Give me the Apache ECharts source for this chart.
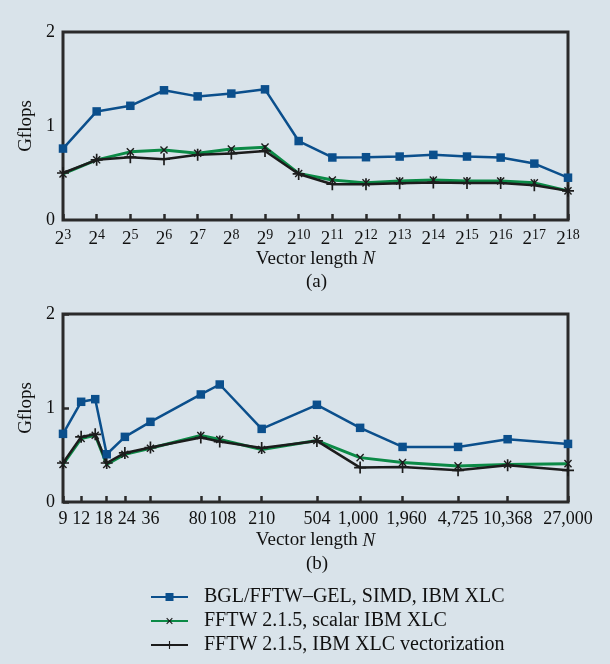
<!DOCTYPE html>
<html><head><meta charset="utf-8">
<script src="https://cdn.jsdelivr.net/npm/echarts@6/dist/echarts.min.js"></script>
<style>html,body{margin:0;padding:0;background:#d9e3ea}#c{width:610px;height:664px}</style>
</head><body><div id="c"></div>
<script>
// ---- data ----
var topExp = [3,4,5,6,7,8,9,10,11,12,13,14,15,16,17,18];
var blueA  = [0.76,1.155,1.215,1.38,1.315,1.345,1.39,0.84,0.665,0.668,0.675,0.693,0.675,0.664,0.60,0.45];
var greenA = [0.49,0.64,0.725,0.745,0.71,0.755,0.775,0.495,0.425,0.395,0.415,0.425,0.415,0.415,0.395,0.31];
var blackA = [0.50,0.64,0.668,0.647,0.693,0.707,0.735,0.49,0.38,0.38,0.39,0.40,0.394,0.394,0.37,0.31];

var bottomN = [9,12,15,18,24,36,80,108,210,504,1000,1960,4725,10368,27000];
var blueB  = [0.725,1.066,1.094,0.508,0.693,0.853,1.144,1.25,0.778,1.034,0.789,0.586,0.586,0.668,0.618];
var greenB = [0.40,0.675,0.71,0.40,0.508,0.572,0.707,0.664,0.558,0.654,0.472,0.42,0.384,0.40,0.408];
var blackB = [0.415,0.693,0.72,0.415,0.522,0.579,0.686,0.643,0.575,0.65,0.366,0.373,0.337,0.39,0.337];
var bottomTicks = [9,12,18,24,36,80,108,210,504,1000,1960,4725,10368,27000];

var names = ['BGL/FFTW\u2013GEL, SIMD, IBM XLC','FFTW 2.1.5, scalar IBM XLC','FFTW 2.1.5, IBM XLC vectorization'];
// ---- style ----
var FONT = 'Liberation Serif';
var BLUE = '#0b4f8c', GREEN = '#0b8a46', BLACK = '#1c1c1c', FRAME = '#2a2a2a';
var PLUS = 'path://M4.3,0H5.7V4.3H10V5.7H5.7V10H4.3V5.7H0V4.3H4.3Z';
// label nudges (px, + = right) to keep crowded tick labels apart, as in the original
var labelShift = {18:-3, 24:2, 80:-3, 108:3, 1000:-2, 1960:4};

var chart = echarts.init(document.getElementById('c'), null, {renderer:'canvas'});

function yAxis(idx){
  return {gridIndex: idx, type:'value', min:0, max:2, interval:1,
    axisLine:{show:false}, splitLine:{show:false},
    axisTick:{inside:true, length:6, lineStyle:{color:FRAME, width:2.5}},
    axisLabel:{fontFamily:FONT, fontSize:18, color:'#111', margin:8},
    name:'Gflops', nameLocation:'middle', nameRotate:90, nameGap:22,
    nameTextStyle:{fontFamily:FONT, fontSize:19, color:'#111'}};
}
function xName(){
  return {name:'{a|Vector length }{i|N}', nameLocation:'middle', nameGap:28,
    nameTextStyle:{fontFamily:FONT, fontSize:19, color:'#111',
      rich:{a:{fontFamily:FONT, fontSize:19, color:'#111'}, i:{fontFamily:FONT, fontSize:19, fontStyle:'italic', color:'#111'}}}};
}
function series(name, xi, data, kind){
  var s = {name:name, type:'line', xAxisIndex:xi, yAxisIndex:xi, data:data, animation:false,
    lineStyle:{width:2.5}, z: 2};
  if (kind===0){ s.symbol='rect'; s.symbolSize=8.5; s.itemStyle={color:BLUE}; s.lineStyle.color=BLUE; s.z=4; }
  else if (kind===1){ s.symbol=PLUS; s.symbolRotate=45; s.symbolSize=10; s.itemStyle={color:BLACK}; s.lineStyle.color=GREEN; s.lineStyle.width=3; s.z=2; }
  else { s.symbol=PLUS; s.symbolSize=12; s.itemStyle={color:BLACK}; s.lineStyle.color=BLACK; s.z=3; }
  return s;
}

var xa0 = Object.assign({gridIndex:0, type:'category', boundaryGap:false,
  data: topExp.map(function(e){return String(e);}),
  axisLine:{show:false}, splitLine:{show:false},
  axisTick:{inside:true, length:6, interval:0, lineStyle:{color:FRAME, width:2.5}},
  axisLabel:{interval:0, margin:8, formatter:function(v){return '{b|2}{s|'+v+'}';},
    rich:{b:{fontFamily:FONT, fontSize:19, color:'#111'}, s:{fontFamily:FONT, fontSize:14, color:'#111', padding:[0,0,9,0]}}}
}, xName());

var lblRich = {t:{fontFamily:FONT, fontSize:18, color:'#111'}};
Object.keys(labelShift).forEach(function(k){
  var d = labelShift[k];
  lblRich['s'+k] = {fontFamily:FONT, fontSize:18, color:'#111', padding: d>0 ? [0,0,0,2*d] : [0,-2*d,0,0]};
});

var xa1 = Object.assign({gridIndex:1, type:'log', logBase:10, min:9, max:27000,
  axisLine:{show:false}, splitLine:{show:false}, minorTick:{show:false},
  axisTick:{inside:true, length:6, customValues: bottomTicks, lineStyle:{color:FRAME, width:2.5}},
  axisLabel:{customValues: bottomTicks, margin:8, fontFamily:FONT, fontSize:18, color:'#111',
    formatter:function(v){
      var n = Math.round(v);
      var s = n.toLocaleString('en-US');
      return labelShift[n] !== undefined ? '{s'+n+'|'+s+'}' : '{t|'+s+'}';
    }, rich: lblRich}
}, xName());
xa1.nameGap = 29;

function pairs(xs, ys){ return xs.map(function(x,i){return [x, ys[i]];}); }

chart.setOption({
  backgroundColor:'#d9e3ea',
  animation:false,
  grid:[
    {left:63, right:42, top:32, height:188, show:true, borderColor:FRAME, borderWidth:3, backgroundColor:'transparent'},
    {left:63, right:42, top:314, height:188, show:true, borderColor:FRAME, borderWidth:3, backgroundColor:'transparent'}
  ],
  xAxis:[xa0, xa1],
  yAxis:[yAxis(0), yAxis(1)],
  legend:{orient:'vertical', left:150, top:587, padding:0, itemWidth:37, itemHeight:10, itemGap:4,
    data:names, selectedMode:false,
    textStyle:{fontFamily:FONT, fontSize:20, color:'#111', lineHeight:20, padding:[0,0,0,11]}},
  series:[
    series(names[0],0,blueA,0), series(names[1],0,greenA,1), series(names[2],0,blackA,2),
    series(names[0],1,pairs(bottomN,blueB),0), series(names[1],1,pairs(bottomN,greenB),1), series(names[2],1,pairs(bottomN,blackB),2)
  ],
  graphic:[
    {type:'text', left:306, top:273, style:{text:'(a)', font:'19px "Liberation Serif"', fill:'#111'}},
    {type:'text', left:306, top:555, style:{text:'(b)', font:'19px "Liberation Serif"', fill:'#111'}}
  ]
});
</script></body></html>
